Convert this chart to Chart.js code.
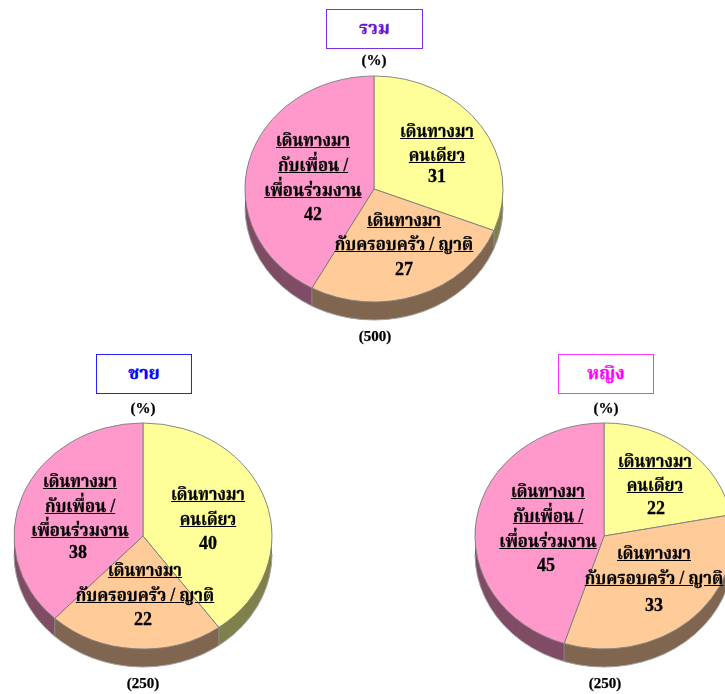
<!DOCTYPE html>
<html lang="th">
<head>
<meta charset="utf-8">
<script src="https://cdn.jsdelivr.net/npm/chart.js@4"></script>
<style>
html,body{margin:0;padding:0;background:#fff;width:725px;height:694px;overflow:hidden}
#page{position:relative;width:725px;height:694px;overflow:hidden;font-family:"Liberation Serif","Noto Serif Thai","Noto Sans Thai",Norasi,"Tlwg Typo",serif;font-weight:bold;color:#000}
canvas{position:absolute}
.t{position:absolute;white-space:nowrap;transform:translate(-50%,-50%);line-height:1}
.lbl{font-size:18px;text-decoration:underline;text-underline-offset:1px;-webkit-text-stroke:.3px #000}
.num{font-size:18px;-webkit-text-stroke:.3px #000}
.note{font-size:15px;color:#000;-webkit-text-stroke:.25px #000}
.box{position:absolute;box-sizing:border-box;background:#fff;border:1px solid;font-size:18px;display:flex;align-items:center;justify-content:center;-webkit-text-stroke:.3px currentColor}
</style>
</head>
<body>
<div id="page"></div>
<script>
const categories = [["เดินทางมา","คนเดียว"],["เดินทางมา","กับครอบครัว / ญาติ"],["เดินทางมา","กับเพื่อน /","เพื่อนร่วมงาน"]];
const panelNames = ["รวม","ชาย","หญิง"];
const sampleSizes = ["(500)","(250)","(250)"];
const valuesAll = [31,27,42];
const valuesMale = [40,22,38];
const valuesFemale = [22,33,45];
const seriesValues = [valuesAll,valuesMale,valuesFemale];
const sliceColors = ["#FFFF99","#FFCC99","#FF99CC"];
const sideColors = ["#80804D","#806650","#804D66"];
const titleColors = ["#6A16D0","#0000FF","#FF00FF"];
const boxColors = ["#7F2FDF","#1F1FFF","#FF33FF"];

// layout (page pixels)
const RX = 129, RY = 113, DEPTH = 18, SIZE = 300;
const lineScales = [[.89,.89],[.89,.93],[.89,.93,.93]];
const layout = [
  {cx:374,cy:189,box:[326,9,97,40],pct:[374,60],n:[375,336],
   labels:[[[437,131],[437,155],[437,176]],[[404,220],[404,244],[404,269]],[[313,140],[313,165],[313,190],[313,214]]]},
  {cx:143,cy:536,box:[96,354,96,40],pct:[143,408],n:[143,683],
   labels:[[[208,494],[208,519],[208,543]],[[145,570],[145,595],[143,619]],[[80,481],[80,506],[80,530],[78,552]]]},
  {cx:604,cy:536,box:[558,354,96,40],pct:[606,408],n:[605,683],
   labels:[[[655,461],[655,485],[656,508]],[[654,553],[654,578],[654,605]],[[548,491],[548,516],[548,541],[546,565]]]}
];

const page = document.getElementById('page');
function addText(text,x,y,cls,sx){
  const d=document.createElement('div');
  d.className='t '+cls; d.textContent=text;
  d.style.left=x+'px'; d.style.top=y+'px';
  if(sx) d.style.transform='translate(-50%,-50%) scaleX('+sx+')';
  page.appendChild(d);
}

const ellipsePlugin = {
  id:'ellipse3d',
  beforeDatasetsDraw(chart){
    const ctx=chart.ctx, arcs=chart.getDatasetMeta(0).data, k=RY/RX;
    const {x:cx,y:cy}=arcs[0];
    const toScreen=(a,r)=>[cx+Math.cos(a)*r, cy+Math.sin(a)*r*k];
    // extruded rim, painted from the library's own arc angles
    for(let dy=DEPTH;dy>=1;dy--){
      arcs.forEach((arc,i)=>{
        ctx.save();
        ctx.translate(cx,cy+dy); ctx.scale(1,k); ctx.translate(-cx,-cy);
        ctx.beginPath(); ctx.moveTo(cx,cy);
        ctx.arc(cx,cy,arc.outerRadius,arc.startAngle,arc.endAngle);
        ctx.closePath();
        ctx.fillStyle=sideColors[i]; ctx.fill();
        ctx.restore();
      });
    }
    ctx.save();
    ctx.translate(cx,cy+DEPTH); ctx.scale(1,k); ctx.translate(-cx,-cy);
    ctx.beginPath(); ctx.arc(cx,cy,arcs[0].outerRadius,0,Math.PI);
    ctx.restore();
    ctx.strokeStyle='#a0a0a0'; ctx.lineWidth=1; ctx.stroke();
    arcs.forEach(arc=>{
      const s=Math.sin(arc.startAngle);
      if(s>0){
        const [px,py]=toScreen(arc.startAngle,arc.outerRadius);
        ctx.beginPath(); ctx.moveTo(px,py); ctx.lineTo(px,py+DEPTH);
        ctx.strokeStyle='#8a8a8a'; ctx.stroke();
      }
    });
    ctx.save();
    ctx.translate(cx,cy); ctx.scale(1,k); ctx.translate(-cx,-cy);
  },
  afterDatasetsDraw(chart){ chart.ctx.restore(); }
};

layout.forEach((L,p)=>{
  const c=document.createElement('canvas');
  c.width=SIZE; c.height=SIZE;
  c.style.width=SIZE+'px'; c.style.height=SIZE+'px';
  c.style.left=(L.cx-SIZE/2)+'px'; c.style.top=(L.cy-SIZE/2)+'px';
  page.appendChild(c);
  new Chart(c,{
    type:'pie',
    data:{labels:categories.map(l=>l.join(' ')),datasets:[{
      data:seriesValues[p],backgroundColor:sliceColors,
      borderColor:'#808080',borderWidth:1,radius:RX
    }]},
    options:{responsive:false,animation:false,
      layout:{padding:0},
      plugins:{legend:{display:false},tooltip:{enabled:false}}},
    plugins:[ellipsePlugin]
  });
  const b=document.createElement('div');
  b.className='box'; b.textContent=panelNames[p];
  b.style.left=L.box[0]+'px'; b.style.top=L.box[1]+'px';
  b.style.width=L.box[2]+'px'; b.style.height=L.box[3]+'px';
  b.style.borderColor=boxColors[p]; b.style.color=titleColors[p];
  page.appendChild(b);
  addText('(%)',L.pct[0],L.pct[1],'note');
  addText(sampleSizes[p],L.n[0],L.n[1],'note');
  categories.forEach((lines,i)=>{
    lines.forEach((line,j)=>addText(line,L.labels[i][j][0],L.labels[i][j][1],'lbl',lineScales[i][j]));
    const pos=L.labels[i][lines.length];
    addText(String(seriesValues[p][i]),pos[0],pos[1],'num');
  });
});
</script>
</body>
</html>
